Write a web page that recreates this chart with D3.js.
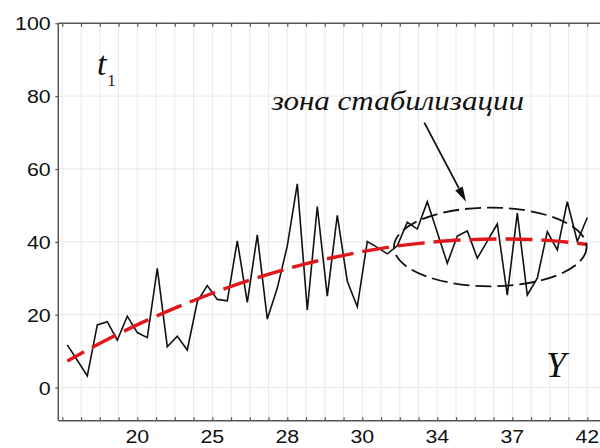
<!DOCTYPE html>
<html>
<head>
<meta charset="utf-8">
<script src="https://cdn.jsdelivr.net/npm/d3@7/dist/d3.min.js"></script>
<style>
  html, body { margin: 0; padding: 0; background: #fff; }
  svg { display: block; }
</style>
</head>
<body>
<svg id="chart" width="600" height="448"></svg>
<script>
// observed t1 values, one per step of Y
const t1Values = [
  11.7, 7.5, 3.2, 17.2, 18.1, 13.0, 19.6, 15.1, 13.7, 32.7,
  11.2, 14.1, 10.3, 23.6, 28.0, 24.2, 23.8, 40.3, 23.4, 41.9,
  18.8, 27.3, 38.9, 55.9, 21.3, 49.7, 25.1, 47.3, 29.2, 22.2,
  40.1, 38.5, 36.7, 38.9, 45.4, 43.5, 51.0, 42.6, 34.1, 41.6,
  43.0, 35.5, 40.2, 44.9, 25.4, 47.9, 25.4, 30.0, 42.8, 37.8,
  51.0, 40.1, 46.7
];

// smoothed trend, sampled every 4th step
const trendIndex  = [0, 4, 8, 12, 16, 20, 24, 28, 32, 36, 40, 44, 48, 52];
const trendValues = [7.3, 13.2, 18.5, 23.2, 27.4, 31.0, 34.1, 36.5, 38.5, 39.8, 40.6, 40.8, 40.4, 39.3];

// Y-axis tick labels and the step at which each one sits
const xTickLabels = ["20", "25", "28", "30", "34", "37", "42"];
const xTickAt     = [7, 14.5, 22, 29.5, 37, 44.5, 52];
const xMinorTicks = [-0.5, 1.375, 3.25, 5.125, 7, 8.875, 10.75, 12.625, 14.5, 16.375,
                     18.25, 20.125, 22, 23.875, 25.75, 27.625, 29.5, 31.375, 33.25,
                     35.125, 37, 38.875, 40.75, 42.625, 44.5, 46.375, 48.25, 50.125, 52];

const yTicks = [0, 20, 40, 60, 80, 100];

// stabilisation zone outline (data units: step, t1)
const zoneCenter = [42.3, 38.6];
const zoneRadius = [9.63, 10.8];

(function draw() {
  const svg = d3.select("#chart");
  const W = 600, H = 448;
  const plotLeft = 58.3, plotTop = 23.3, plotBottom = 420.7;

  svg.append("rect").attr("width", W).attr("height", H).attr("fill", "#fff");

  const x = d3.scaleLinear().domain([0, 52]).range([67.3, 587.3]);
  const y = d3.scaleLinear().domain([-9.1, 100]).range([plotBottom, plotTop]);

  const gridColor = "#e9e9e9";
  const axisColor = "#555";

  // vertical grid
  svg.append("g")
    .selectAll("line")
    .data(xMinorTicks)
    .join("line")
    .attr("x1", d => x(d)).attr("x2", d => x(d))
    .attr("y1", plotTop).attr("y2", plotBottom)
    .attr("stroke", gridColor).attr("stroke-width", 1);

  // horizontal grid
  svg.append("g")
    .selectAll("line")
    .data(yTicks.slice(0, -1))
    .join("line")
    .attr("x1", plotLeft).attr("x2", W)
    .attr("y1", d => y(d)).attr("y2", d => y(d))
    .attr("stroke", gridColor).attr("stroke-width", 1);

  const fontSans = "'Liberation Sans', Arial, sans-serif";
  const stretch = 1.15;

  // left axis
  const yAxis = svg.append("g")
    .attr("transform", `translate(${plotLeft},0)`)
    .call(d3.axisLeft(y).tickValues(yTicks).tickSize(3).tickPadding(6).tickFormat(d3.format("d")));
  yAxis.select(".domain").attr("stroke", axisColor).attr("stroke-width", 1.5)
    .attr("d", `M0,${plotTop}V${plotBottom}`);
  yAxis.selectAll(".tick line").attr("stroke", axisColor).attr("stroke-width", 1.2);
  yAxis.selectAll(".tick text")
    .attr("font-family", fontSans).attr("font-size", 18.6).attr("fill", "#111")
    .attr("x", null).attr("dy", "0.36em")
    .attr("transform", `translate(-7.6,0) scale(${stretch},1)`);

  // bottom axis: minor ticks pointing inward
  const xAxis = svg.append("g")
    .attr("transform", `translate(0,${plotBottom})`)
    .call(d3.axisBottom(x).tickValues(xMinorTicks).tickSize(-3.5).tickSizeOuter(0).tickFormat(""));
  xAxis.select(".domain").attr("stroke", axisColor).attr("stroke-width", 1.5)
    .attr("d", `M${plotLeft},0H${W}`);
  xAxis.selectAll(".tick line").attr("stroke", axisColor).attr("stroke-width", 1.2);

  // bottom tick labels
  svg.append("g")
    .selectAll("text")
    .data(xTickAt)
    .join("text")
    .attr("transform", d => `translate(${x(d)},${plotBottom + 22}) scale(${stretch},1)`)
    .attr("text-anchor", "middle")
    .attr("font-family", fontSans).attr("font-size", 18.6).attr("fill", "#111")
    .text((d, i) => xTickLabels[i]);

  // top frame with inward ticks
  const topAxis = svg.append("g")
    .attr("transform", `translate(0,${plotTop})`)
    .call(d3.axisTop(x).tickValues(xMinorTicks).tickSize(-3.5).tickSizeOuter(0).tickFormat(""));
  topAxis.select(".domain").attr("stroke", axisColor).attr("stroke-width", 1.5)
    .attr("d", `M${plotLeft},0H${W}`);
  topAxis.selectAll(".tick line").attr("stroke", axisColor).attr("stroke-width", 1.2);

  // observed series
  const line = d3.line().x((d, i) => x(i)).y(d => y(d));
  svg.append("path")
    .datum(t1Values)
    .attr("d", line)
    .attr("fill", "none")
    .attr("stroke", "#111")
    .attr("stroke-width", 1.6)
    .attr("stroke-linejoin", "miter");

  // trend
  const trendLine = d3.line()
    .x((d, i) => x(trendIndex[i]))
    .y(d => y(d))
    .curve(d3.curveMonotoneX);
  svg.append("path")
    .datum(trendValues)
    .attr("d", trendLine)
    .attr("fill", "none")
    .attr("stroke", "#e0161b")
    .attr("stroke-width", 3.4)
    .attr("stroke-dasharray", "27,9")
    .attr("stroke-dashoffset", 8);

  // stabilisation zone ellipse
  const cx = x(zoneCenter[0]), cy = y(zoneCenter[1]);
  const rx = x(zoneCenter[0] + zoneRadius[0]) - cx;
  const ry = cy - y(zoneCenter[1] + zoneRadius[1]);
  svg.append("ellipse")
    .attr("cx", cx).attr("cy", cy).attr("rx", rx).attr("ry", ry)
    .attr("fill", "none")
    .attr("stroke", "#111")
    .attr("stroke-width", 1.8)
    .attr("stroke-dasharray", "16,6");

  // arrow pointing at the zone
  const ax0 = 424.3, ay0 = 122.7, ax1 = 466, ay1 = 201.7;
  const ang = Math.atan2(ay1 - ay0, ax1 - ax0);
  const headLen = 15, headHalf = 4.2;
  const bx = ax1 - headLen * Math.cos(ang), by = ay1 - headLen * Math.sin(ang);
  svg.append("line")
    .attr("x1", ax0).attr("y1", ay0).attr("x2", bx).attr("y2", by)
    .attr("stroke", "#111").attr("stroke-width", 1.8);
  svg.append("path")
    .attr("d", `M${ax1},${ay1}L${bx - headHalf * Math.sin(ang)},${by + headHalf * Math.cos(ang)}L${bx + headHalf * Math.sin(ang)},${by - headHalf * Math.cos(ang)}Z`)
    .attr("fill", "#111");

  const fontSerif = "'Liberation Serif', 'Times New Roman', serif";

  // label t1
  const tLabel = svg.append("text")
    .attr("x", 97).attr("y", 75)
    .attr("font-family", fontSerif).attr("fill", "#111");
  tLabel.append("tspan").attr("font-size", 34).attr("font-style", "italic").text("t");
  tLabel.append("tspan").attr("font-size", 16).attr("dx", 1).attr("dy", 11).text("1");

  // axis name Y
  svg.append("text")
    .attr("x", 546).attr("y", 377)
    .attr("font-family", fontSerif).attr("font-size", 36).attr("font-style", "italic")
    .attr("fill", "#111")
    .text("Y");

  // zone caption
  svg.append("text")
    .attr("transform", `translate(271.7,110) scale(${stretch},1)`)
    .attr("font-family", fontSerif).attr("font-size", 27).attr("font-style", "italic")
    .attr("fill", "#111")
    .text("зона стабилизации");
})();
</script>
</body>
</html>
